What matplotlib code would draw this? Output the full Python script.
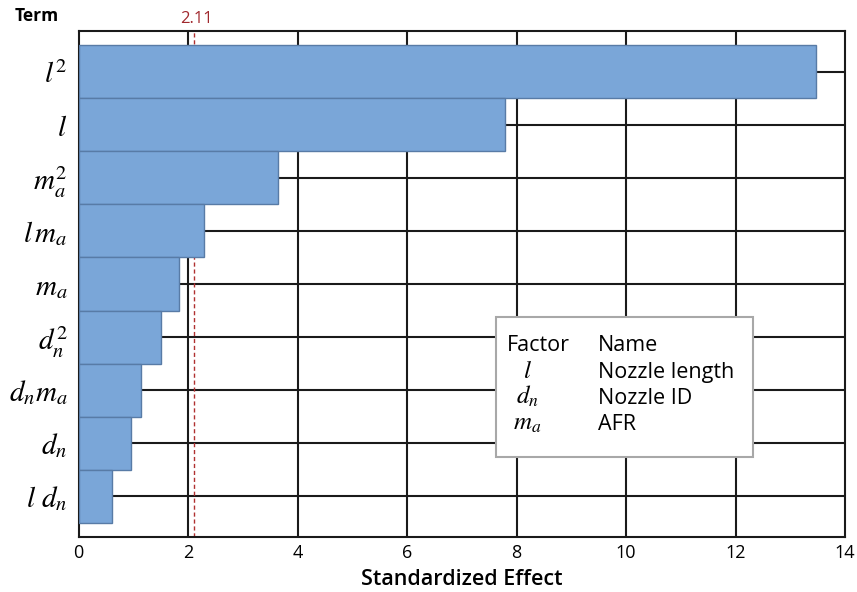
import matplotlib
matplotlib.use('Agg')
import matplotlib.pyplot as plt
from matplotlib.patches import Rectangle

# data (top to bottom)
terms = [r'$l^2$', r'$l$', r'$m_a^2$', r'$l\,m_a$', r'$m_a$',
         r'$d_n^2$', r'$d_n m_a$', r'$d_n$', r'$l\ d_n$']
effects = [13.47, 7.79, 3.64, 2.30, 1.84, 1.50, 1.14, 0.95, 0.62]
ref_value = 2.11
xticks = [0, 2, 4, 6, 8, 10, 12, 14]
factors = [r'$l$', r'$d_n$', r'$m_a$']
names = ['Nozzle length', 'Nozzle ID', 'AFR']

plt.rcParams['font.family'] = ['Open Sans', 'DejaVu Sans']
plt.rcParams['mathtext.fontset'] = 'stix'

fig = plt.figure(figsize=(8.57, 5.92), dpi=100)
ax = fig.add_axes([0.0916, 0.0929, 0.8944, 0.8547])

ypos = list(range(len(terms)))
ax.barh(ypos, effects, height=1.0, color='#7aa6d8', edgecolor='#587ba6',
        linewidth=1.0, zorder=3)

# grid lines behind bars
for x in xticks[1:-1]:
    ax.axvline(x, color='#1a1a1a', lw=1.5, zorder=1)
for y in ypos:
    ax.axhline(y, color='#1a1a1a', lw=1.5, zorder=1)

ax.axvline(ref_value, color='#b03030', lw=1.0, ls=(0, (3, 2)), zorder=2)
ax.text(ref_value + 0.05, 1.008, '2.11', color='#a0282d', fontsize=12,
        ha='center', va='bottom', transform=ax.get_xaxis_transform())

ax.set_xlim(0, 14)
ax.set_ylim(8.765, -0.765)
ax.set_xticks(xticks)
ax.set_yticks(ypos)
ax.set_yticklabels(terms, fontsize=21)
ax.tick_params(axis='both', length=0)
ax.tick_params(axis='x', labelsize=13, pad=5)
ax.tick_params(axis='y', pad=8)
for s in ax.spines.values():
    s.set_color('#1a1a1a')
    s.set_linewidth(1.5)

ax.set_xlabel('Standardized Effect', fontsize=15.5, fontweight='semibold',
              labelpad=5)
fig.text(0.043, 0.973, 'Term', fontsize=12.5, fontweight='bold',
         ha='center', va='center')

# factor key box
ax.add_patch(Rectangle((7.62, 4.62), 4.70, 2.64,
                       facecolor='white', edgecolor='#a8a8a8', lw=1.5,
                       zorder=5))
ax.text(7.82, 5.15, 'Factor', fontsize=15.5, va='center', zorder=6)
ax.text(9.49, 5.15, 'Name', fontsize=15.5, va='center', zorder=6)
for i, (f, n) in enumerate(zip(factors, names)):
    ax.text(8.2, 5.64 + 0.49 * i, f, fontsize=18, ha='center',
            va='center', zorder=6)
    ax.text(9.49, 5.66 + 0.49 * i, n, fontsize=15.5, va='center', zorder=6)

fig.savefig('out.png', dpi=100)
